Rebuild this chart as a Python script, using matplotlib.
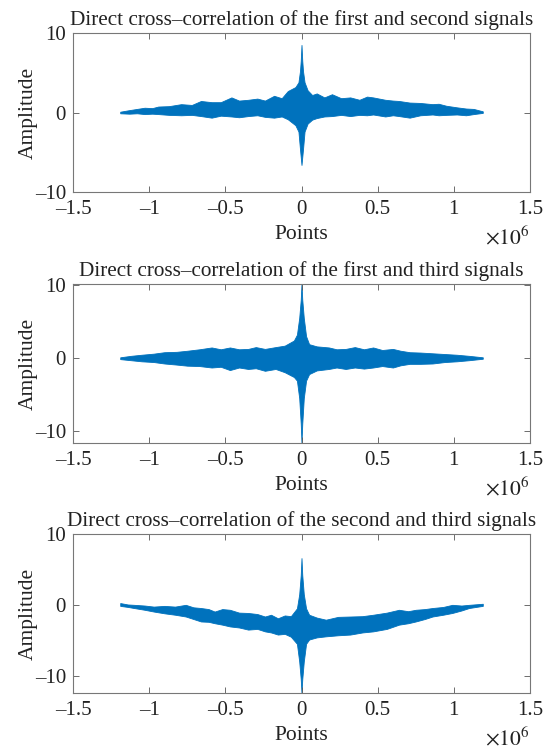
import numpy as np
import matplotlib
matplotlib.use("Agg")
import matplotlib.pyplot as plt

plt.rcParams['font.family'] = ['Liberation Serif', 'DejaVu Serif']
plt.rcParams['mathtext.fontset'] = 'stix'

# envelope of each cross-correlation (x in units of 1e6 points)
x1 = [-1.19, -1.13, -1.08, -1.03, -0.98, -0.94, -0.87, -0.79, -0.72, -0.66, -0.59, -0.53,
      -0.46, -0.41, -0.35, -0.29, -0.24, -0.18, -0.13, -0.09, -0.04, -0.02, -0.01, -0.005,
      0, 0.005, 0.01, 0.02, 0.04, 0.07, 0.1, 0.15, 0.2, 0.26, 0.32, 0.38, 0.43, 0.47, 0.55,
      0.6, 0.64, 0.71, 0.78, 0.86, 0.9, 0.95, 1.02, 1.08, 1.13, 1.19]
upper1 = [0.1, 0.3, 0.45, 0.6, 0.55, 0.75, 0.8, 1.05, 0.95, 1.45, 1.3, 1.3,
          1.9, 1.5, 1.6, 1.75, 1.5, 2.1, 1.8, 2.7, 3.2, 3.8, 5.2, 6.5,
          8.5, 6.5, 5.2, 3.8, 2.8, 2.2, 2.4, 1.9, 2.3, 1.8, 1.9, 1.6, 2.0, 1.9, 1.6,
          1.5, 1.45, 1.25, 1.2, 1.05, 1.1, 0.85, 0.65, 0.5, 0.45, 0.15]
lower1 = [-0.1, -0.15, -0.1, -0.2, -0.15, -0.2, -0.3, -0.35, -0.3, -0.45, -0.65, -0.4,
          -0.5, -0.6, -0.45, -0.35, -0.55, -0.65, -0.5, -0.85, -1.6, -2.4, -4.6, -5.6,
          -6.6, -5.6, -4.6, -2.4, -1.4, -0.9, -0.7, -0.5, -0.45, -0.3, -0.45, -0.3, -0.35, -0.25, -0.5,
          -0.35, -0.45, -0.65, -0.35, -0.25, -0.35, -0.3, -0.25, -0.35, -0.2, -0.05]

x2 = [-1.19, -1.12, -1.05, -0.97, -0.9, -0.82, -0.75, -0.67, -0.59, -0.53, -0.47, -0.41,
      -0.35, -0.3, -0.24, -0.17, -0.11, -0.05, -0.03, -0.015, -0.005, 0, 0.005, 0.015,
      0.03, 0.05, 0.1, 0.18, 0.23, 0.29, 0.35, 0.41, 0.47, 0.53, 0.6, 0.65, 0.71, 0.78,
      0.86, 0.94, 1.02, 1.1, 1.19]
upper2 = [0.1, 0.3, 0.45, 0.6, 0.8, 0.85, 1.0, 1.2, 1.45, 1.2, 1.45, 1.2,
          1.25, 1.5, 1.25, 1.5, 1.7, 2.4, 3.2, 5.5, 8.0, 10.2, 8.0, 5.5,
          3.0, 1.9, 1.6, 1.45, 1.2, 1.25, 1.5, 1.2, 1.45, 1.1, 1.25, 1.0, 0.8, 0.75,
          0.65, 0.55, 0.45, 0.3, 0.1]
lower2 = [-0.15, -0.3, -0.45, -0.55, -0.75, -0.9, -1.05, -1.1, -1.3, -1.2, -1.65, -1.3,
          -1.5, -1.4, -1.75, -1.5, -1.95, -2.6, -3.1, -5.5, -9.0, -11.65, -9.0, -5.5,
          -3.1, -2.2, -1.7, -1.5, -1.3, -1.5, -1.3, -1.45, -1.3, -1.1, -1.3, -1.0, -0.8, -0.8,
          -0.75, -0.55, -0.45, -0.3, -0.1]

x3 = [-1.19, -1.14, -1.1, -1.03, -0.97, -0.9, -0.83, -0.76, -0.71, -0.66, -0.61, -0.57,
      -0.52, -0.47, -0.41, -0.35, -0.29, -0.24, -0.2, -0.155, -0.11, -0.07, -0.03, -0.015,
      -0.005, 0, 0.005, 0.015, 0.03, 0.05, 0.1, 0.16, 0.24, 0.32, 0.4, 0.47, 0.56, 0.64,
      0.7, 0.75, 0.81, 0.86, 0.93, 0.99, 1.05, 1.1, 1.19]
upper3 = [0.25, 0.05, 0.0, -0.1, -0.25, -0.15, -0.25, 0.0, -0.35, -0.45, -0.6, -0.95,
          -0.6, -0.7, -1.1, -1.15, -1.3, -1.65, -1.4, -1.9, -1.5, -1.6, -0.5, 1.5,
          4.2, 6.6, 4.2, 1.5, -0.5, -1.4, -1.8, -2.1, -1.7, -1.65, -1.6, -1.4, -1.1, -0.7,
          -0.9, -0.7, -0.6, -0.45, -0.3, 0.0, -0.1, 0.0, 0.15]
lower3 = [-0.15, -0.3, -0.45, -0.7, -0.95, -1.2, -1.4, -1.65, -2.0, -2.35, -2.4, -2.6,
          -2.8, -3.05, -3.2, -3.5, -3.4, -3.75, -3.9, -4.2, -4.1, -4.5, -5.5, -8.0,
          -10.5, -12.45, -10.5, -8.0, -5.5, -4.9, -4.6, -4.45, -4.3, -4.2, -3.9, -3.75, -3.4, -2.8,
          -2.6, -2.35, -2.0, -1.65, -1.4, -1.15, -0.8, -0.45, -0.15]

titles = ['Direct cross\u2013correlation of the first and second signals',
          'Direct cross\u2013correlation of the first and third signals',
          'Direct cross\u2013correlation of the second and third signals']
ylims = [(-10, 10), (-11.65, 10.15), (-12.45, 10)]
yticks = [-10, 0, 10]
yticklabels = ['\u201310', '0', '10']
xticks = [-1.5, -1, -0.5, 0, 0.5, 1, 1.5]
xticklabels = ['\u20131.5', '\u20131', '\u20130.5', '0', '0.5', '1', '1.5']

blue = '#0072BD'
W, H = 544, 752
fig = plt.figure(figsize=(W / 100, H / 100), dpi=100)

tops = [33, 284, 534]
ax_h = 159
left, right = 73, 530

data = [(x1, upper1, lower1), (x2, upper2, lower2), (x3, upper3, lower3)]
for i, (xs, up, lo) in enumerate(data):
    ax = fig.add_axes([left / W, 1 - (tops[i] + ax_h) / H, (right - left) / W, ax_h / H])
    xs = np.array(xs) * 1e6
    ax.fill_between(xs, lo, up, color=blue, lw=0.6, edgecolor=blue)
    ax.set_xlim(-1.5e6, 1.5e6)
    ax.set_ylim(*ylims[i])
    ax.set_xticks(np.array(xticks) * 1e6)
    ax.set_xticklabels(xticklabels)
    ax.set_yticks(yticks)
    ax.set_yticklabels(yticklabels)
    ax.tick_params(direction='in', top=True, right=True, length=4, width=0.6,
                   labelsize=15, colors='#555555', labelcolor='#222222')
    ax.tick_params(axis='x', pad=6)
    ax.tick_params(axis='y', pad=5)
    for s in ax.spines.values():
        s.set_color('#777777')
        s.set_linewidth(0.8)
    ax.set_title(titles[i], fontsize=15.3, color='#222222', pad=6)
    ax.set_xlabel('Points', fontsize=15.5, color='#222222')
    ax.xaxis.set_label_coords(0.5, -0.205)
    ax.set_ylabel('Amplitude', fontsize=15.5, color='#222222')
    ax.yaxis.set_label_coords(-0.078, 0.5)
    ax.text(1.0, -0.29, r'$\times 10^{6}$', transform=ax.transAxes, ha='right', va='center',
            fontsize=15.5, color='#222222')

fig.savefig('out.png', dpi=100)
